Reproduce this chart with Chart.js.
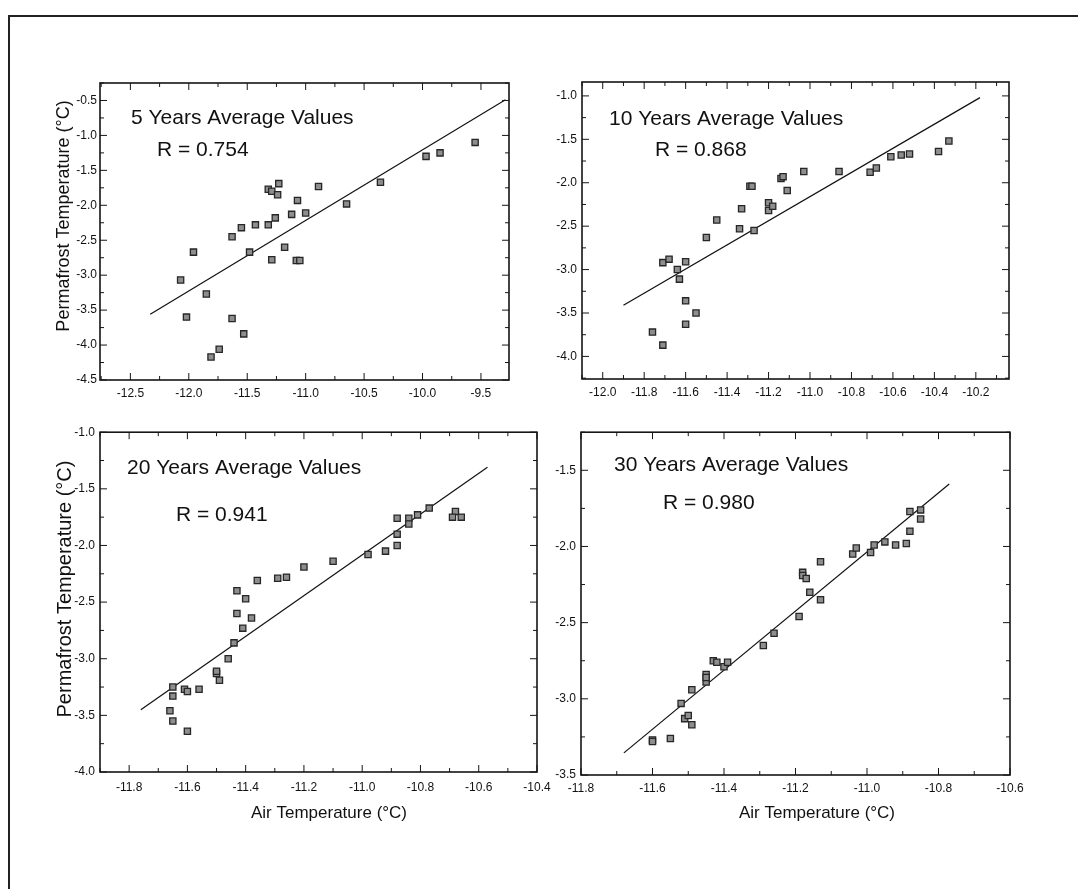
<!DOCTYPE html>
<html>
<head>
<meta charset="utf-8">
<script src="https://cdn.jsdelivr.net/npm/chart.js@4/dist/chart.umd.min.js"></script>
<style>
  body { margin: 0; background: #fff; }
  #page { position: relative; width: 1078px; height: 889px; overflow: hidden; background: #fff; }
  #frame { position: absolute; left: 8px; top: 15px; width: 1070px; height: 874px;
           border-top: 2px solid #222; border-left: 2px solid #222; }
  canvas { position: absolute; }
</style>
</head>
<body>
<div id="page">
  <div id="frame"></div>
  <canvas id="c5" width="540" height="420" style="left:0;top:0"></canvas>
  <canvas id="c10" width="538" height="420" style="left:540px;top:0"></canvas>
  <canvas id="c20" width="560" height="469" style="left:0;top:420px"></canvas>
  <canvas id="c30" width="538" height="469" style="left:540px;top:420px"></canvas>
</div>
<script>
// ---- data ----
var x5 = [-12.07, -12.02, -11.96, -11.85, -11.81, -11.74, -11.63, -11.63, -11.55, -11.53, -11.48, -11.43, -11.32, -11.32, -11.29, -11.29, -11.26, -11.24, -11.23, -11.18, -11.12, -11.07, -11.08, -11.05, -11.00, -10.89, -10.65, -10.36, -9.97, -9.85, -9.55];
var y5 = [-3.07, -3.60, -2.67, -3.27, -4.17, -4.06, -3.62, -2.45, -2.32, -3.84, -2.67, -2.28, -2.28, -1.77, -1.80, -2.78, -2.18, -1.85, -1.69, -2.60, -2.13, -1.93, -2.79, -2.79, -2.11, -1.73, -1.98, -1.67, -1.30, -1.25, -1.10];
var fit5X = [-12.33, -9.29];
var fit5Y = [-3.56, -0.49];

var x10 = [-11.76, -11.71, -11.71, -11.68, -11.64, -11.63, -11.60, -11.60, -11.60, -11.55, -11.50, -11.45, -11.34, -11.33, -11.29, -11.28, -11.27, -11.20, -11.20, -11.18, -11.14, -11.13, -11.11, -11.03, -10.86, -10.71, -10.68, -10.61, -10.56, -10.52, -10.38, -10.33];
var y10 = [-3.72, -3.87, -2.92, -2.88, -3.00, -3.11, -2.91, -3.36, -3.63, -3.50, -2.63, -2.43, -2.53, -2.30, -2.04, -2.04, -2.55, -2.23, -2.32, -2.27, -1.95, -1.93, -2.09, -1.87, -1.87, -1.88, -1.83, -1.70, -1.68, -1.67, -1.64, -1.52];
var fit10X = [-11.90, -10.18];
var fit10Y = [-3.41, -1.02];

var x20 = [-11.66, -11.65, -11.65, -11.65, -11.61, -11.60, -11.60, -11.56, -11.50, -11.50, -11.49, -11.46, -11.44, -11.43, -11.43, -11.41, -11.40, -11.38, -11.36, -11.29, -11.26, -11.20, -11.10, -10.98, -10.92, -10.88, -10.88, -10.88, -10.84, -10.84, -10.81, -10.77, -10.68, -10.69, -10.66];
var y20 = [-3.46, -3.55, -3.33, -3.25, -3.27, -3.29, -3.64, -3.27, -3.13, -3.11, -3.19, -3.00, -2.86, -2.40, -2.60, -2.73, -2.47, -2.64, -2.31, -2.29, -2.28, -2.19, -2.14, -2.08, -2.05, -2.00, -1.90, -1.76, -1.76, -1.81, -1.73, -1.67, -1.70, -1.75, -1.75];
var fit20X = [-11.76, -10.57];
var fit20Y = [-3.45, -1.31];

var x30 = [-11.60, -11.60, -11.55, -11.52, -11.51, -11.50, -11.49, -11.49, -11.45, -11.45, -11.45, -11.43, -11.42, -11.40, -11.39, -11.29, -11.26, -11.19, -11.18, -11.18, -11.17, -11.16, -11.13, -11.13, -11.04, -11.03, -10.99, -10.98, -10.95, -10.92, -10.89, -10.88, -10.88, -10.85, -10.85];
var y30 = [-3.27, -3.28, -3.26, -3.03, -3.13, -3.11, -3.17, -2.94, -2.89, -2.84, -2.86, -2.75, -2.76, -2.79, -2.76, -2.65, -2.57, -2.46, -2.17, -2.19, -2.21, -2.30, -2.10, -2.35, -2.05, -2.01, -2.04, -1.99, -1.97, -1.99, -1.98, -1.90, -1.77, -1.76, -1.82];
var fit30X = [-11.68, -10.77];
var fit30Y = [-3.355, -1.59];

// tick labels
var xTicks5 = [-12.5, -12.0, -11.5, -11.0, -10.5, -10.0, -9.5];
var yTicks5 = [-4.5, -4.0, -3.5, -3.0, -2.5, -2.0, -1.5, -1.0, -0.5];
var xTicks10 = [-12.0, -11.8, -11.6, -11.4, -11.2, -11.0, -10.8, -10.6, -10.4, -10.2];
var yTicks10 = [-4.0, -3.5, -3.0, -2.5, -2.0, -1.5, -1.0];
var xTicks20 = [-11.8, -11.6, -11.4, -11.2, -11.0, -10.8, -10.6, -10.4];
var yTicks20 = [-4.0, -3.5, -3.0, -2.5, -2.0, -1.5, -1.0];
var xTicks30 = [-11.8, -11.6, -11.4, -11.2, -11.0, -10.8, -10.6];
var yTicks30 = [-3.5, -3.0, -2.5, -2.0, -1.5];

var titles = ['5 Years Average Values', '10 Years Average Values', '20 Years Average Values', '30 Years Average Values'];
var rLabels = ['R = 0.754', 'R = 0.868', 'R = 0.941', 'R = 0.980'];
var yTitle = 'Permafrost Temperature (°C)';
var xTitle = 'Air Temperature (°C)';

var FONT = "'Liberation Sans', Arial, Helvetica, sans-serif";

function pts(xs, ys) {
    var out = [];
    for (var i = 0; i < xs.length; i++) out.push({ x: xs[i], y: ys[i] });
    return out;
}

// frame with inward major/minor ticks on all four sides, plus the text
var framePlugin = {
    id: 'frameTicks',
    afterDatasetsDraw: function (chart, args, o) {
        var ctx = chart.ctx, a = chart.chartArea;
        var xs = chart.scales.x, ys = chart.scales.y;
        ctx.save();
        ctx.strokeStyle = '#151515';
        ctx.lineWidth = 1;
        function marks(scale, major, horiz) {
            var step = major[1] - major[0];
            for (var i = -4; i <= 2 * (major.length - 1) + 4; i++) {
                var v = major[0] + i * step / 2;
                if (v < scale.min - 1e-9 || v > scale.max + 1e-9) continue;
                var len = (i % 2 === 0) ? 7 : 4;
                var p = scale.getPixelForValue(v);
                ctx.beginPath();
                if (horiz) {
                    ctx.moveTo(p, a.bottom); ctx.lineTo(p, a.bottom - len);
                    ctx.moveTo(p, a.top); ctx.lineTo(p, a.top + len);
                } else {
                    ctx.moveTo(a.left, p); ctx.lineTo(a.left + len, p);
                    ctx.moveTo(a.right, p); ctx.lineTo(a.right - len, p);
                }
                ctx.stroke();
            }
        }
        marks(xs, o.xMajor, true);
        marks(ys, o.yMajor, false);
        ctx.lineWidth = 1.6;
        ctx.strokeRect(a.left, a.top, a.right - a.left, a.bottom - a.top);
        ctx.restore();
    },
    afterDraw: function (chart, args, o) {
        var ctx = chart.ctx;
        ctx.save();
        ctx.fillStyle = '#111';
        ctx.textBaseline = 'alphabetic';
        ctx.textAlign = 'left';
        ctx.font = '21px ' + FONT;
        ctx.fillText(o.title, o.titleAt[0], o.titleAt[1]);
        ctx.fillText(o.r, o.rAt[0], o.rAt[1]);
        ctx.textAlign = 'center';
        ctx.textBaseline = 'middle';
        if (o.yTitleAt) {
            ctx.font = o.yTitleAt[2] + 'px ' + FONT;
            ctx.translate(o.yTitleAt[0], o.yTitleAt[1]);
            ctx.rotate(-Math.PI / 2);
            ctx.fillText(yTitle, 0, 0);
            ctx.setTransform(1, 0, 0, 1, 0, 0);
        }
        if (o.xTitleAt) {
            ctx.font = '17px ' + FONT;
            ctx.fillText(xTitle, o.xTitleAt[0], o.xTitleAt[1]);
        }
        ctx.restore();
    }
};

function panel(id, cfg) {
    var tickFont = { family: FONT, size: 12 };
    new Chart(document.getElementById(id), {
        type: 'scatter',
        data: {
            datasets: [
                {
                    data: pts(cfg.x, cfg.y),
                    pointStyle: 'rect',
                    pointRadius: 4.4,
                    backgroundColor: '#8e8e8e',
                    borderColor: '#262626',
                    borderWidth: 1.3
                },
                {
                    data: pts(cfg.fitX, cfg.fitY),
                    showLine: true,
                    pointRadius: 0,
                    borderColor: '#111',
                    borderWidth: 1.2,
                    fill: false
                }
            ]
        },
        options: {
            responsive: false,
            animation: false,
            devicePixelRatio: 1,
            layout: { padding: { top: cfg.pad[0], right: cfg.pad[1], bottom: 0, left: 0 } },
            plugins: {
                legend: { display: false },
                tooltip: { enabled: false },
                frameTicks: cfg.text
            },
            scales: {
                x: {
                    type: 'linear',
                    min: cfg.xr[0], max: cfg.xr[1],
                    afterBuildTicks: function (s) { s.ticks = cfg.xt.map(function (v) { return { value: v }; }); },
                    afterFit: function (s) { s.height = cfg.xh; },
                    grid: { display: false, drawTicks: false },
                    border: { display: false },
                    ticks: {
                        autoSkip: false, maxRotation: 0, padding: cfg.xpad,
                        color: '#111', font: tickFont,
                        callback: function (v) { return Number(v).toFixed(1); }
                    }
                },
                y: {
                    type: 'linear',
                    min: cfg.yr[0], max: cfg.yr[1],
                    afterBuildTicks: function (s) { s.ticks = cfg.yt.map(function (v) { return { value: v }; }); },
                    afterFit: function (s) { s.width = cfg.yw; },
                    grid: { display: false, drawTicks: false },
                    border: { display: false },
                    ticks: {
                        autoSkip: false, padding: cfg.ypad,
                        color: '#111', font: tickFont,
                        callback: function (v) { return Number(v).toFixed(1); }
                    }
                }
            }
        },
        plugins: [framePlugin]
    });
}

panel('c5', {
    x: x5, y: y5, fitX: fit5X, fitY: fit5Y,
    xr: [-12.76, -9.26], yr: [-4.5, -0.25], xt: xTicks5, yt: yTicks5,
    pad: [83, 31], xh: 40, yw: 100, xpad: 6, ypad: 3,
    text: { xMajor: xTicks5, yMajor: yTicks5, title: titles[0], r: rLabels[0],
            titleAt: [131, 124], rAt: [157, 156], yTitleAt: [64, 216, 18] }
});
panel('c10', {
    x: x10, y: y10, fitX: fit10X, fitY: fit10Y,
    xr: [-12.1, -10.04], yr: [-4.26, -0.84], xt: xTicks10, yt: yTicks10,
    pad: [82, 69], xh: 41, yw: 42, xpad: 6, ypad: 5,
    text: { xMajor: xTicks10, yMajor: yTicks10, title: titles[1], r: rLabels[1],
            titleAt: [69, 125], rAt: [115, 156] }
});
panel('c20', {
    x: x20, y: y20, fitX: fit20X, fitY: fit20Y,
    xr: [-11.9, -10.4], yr: [-4.0, -1.0], xt: xTicks20, yt: yTicks20,
    pad: [11, 23], xh: 117, yw: 100, xpad: 8, ypad: 5,
    text: { xMajor: xTicks20, yMajor: yTicks20, title: titles[2], r: rLabels[2],
            titleAt: [127, 54], rAt: [176, 101], yTitleAt: [65, 169, 20], xTitleAt: [329, 393] }
});
panel('c30', {
    x: x30, y: y30, fitX: fit30X, fitY: fit30Y,
    xr: [-11.8, -10.6], yr: [-3.5, -1.25], xt: xTicks30, yt: yTicks30,
    pad: [8, 68], xh: 114, yw: 41, xpad: 6, ypad: 5,
    text: { xMajor: xTicks30, yMajor: yTicks30, title: titles[3], r: rLabels[3],
            titleAt: [74, 51], rAt: [123, 89], xTitleAt: [277, 393] }
});
</script>
</body>
</html>
